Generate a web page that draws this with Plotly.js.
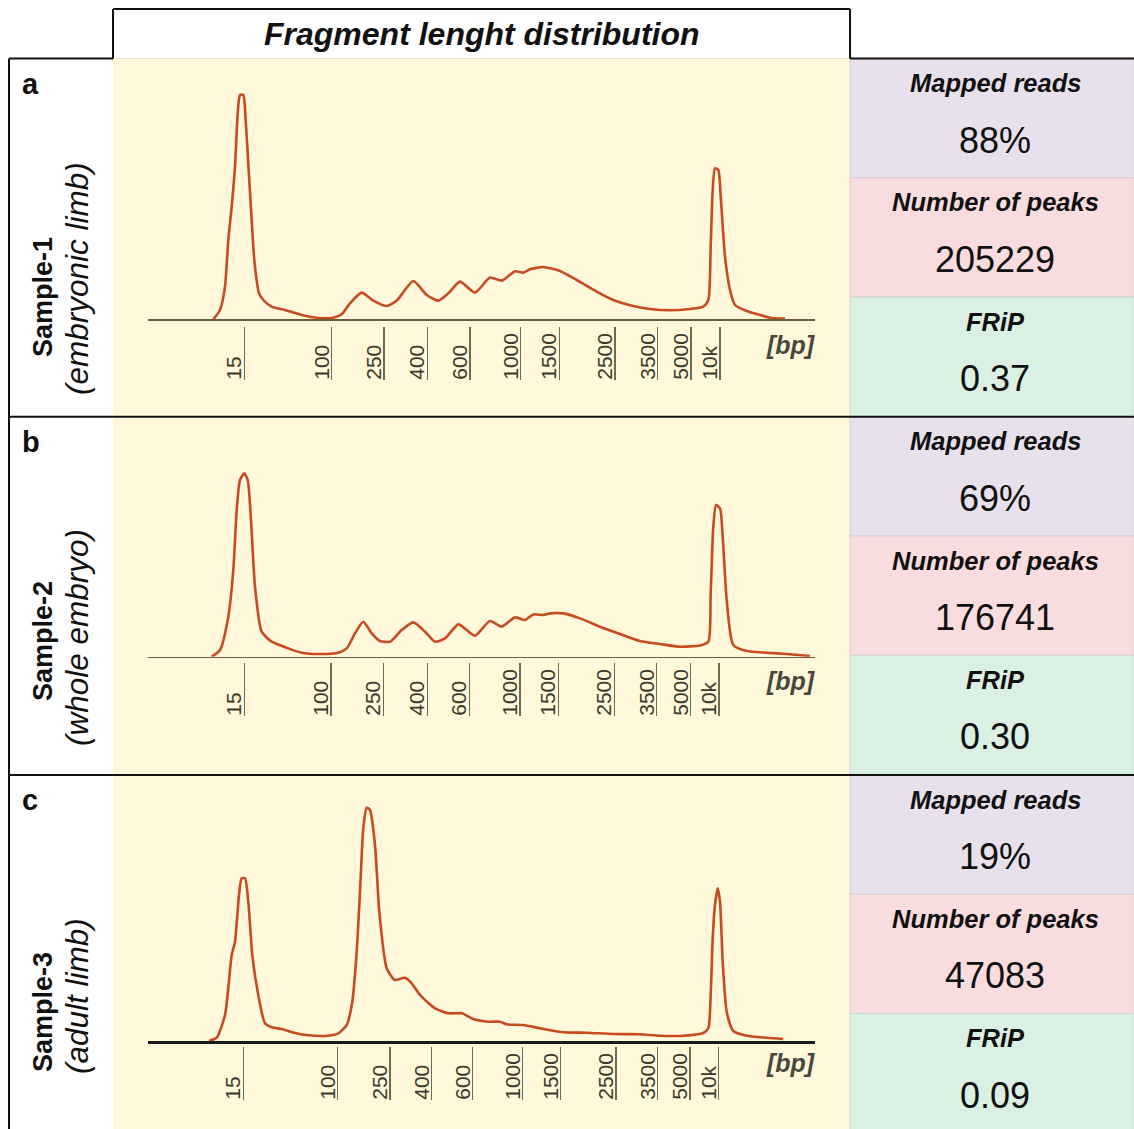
<!DOCTYPE html>
<html>
<head>
<meta charset="utf-8">
<script src="https://cdn.plot.ly/plotly-3.0.1.min.js"></script>
<style>html,body{margin:0;padding:0;background:#fff;}#chart{width:1134px;height:1129px;}</style>
</head>
<body>
<div id="chart"></div>
<script>
// ---------------- DATA ----------------
const sampleNames = ['Sample-1', 'Sample-2', 'Sample-3'];
const sampleTissues = ['(embryonic limb)', '(whole embryo)', '(adult limb)'];
const panelLetters = ['a', 'b', 'c'];
const mappedReads = ['88%', '69%', '19%'];
const numberOfPeaks = ['205229', '176741', '47083'];
const fripValues = ['0.37', '0.30', '0.09'];
const tickLabels = ['15', '100', '250', '400', '600', '1000', '1500', '2500', '3500', '5000', '10k'];
// tick positions along each (hand-drawn, non-uniform) fragment-length axis
const tickPos1 = [96.3, 183.7, 236, 279.3, 322, 372.7, 411.3, 467, 509.7, 543, 572];
const tickPos2 = [96.3, 183, 235.3, 279.3, 321.3, 372, 410.3, 466.3, 508.7, 542.7, 571];
const tickPos3 = [95.3, 189.7, 242, 283.7, 324.7, 374.7, 412.7, 468, 509.7, 542, 570.7];
// fragment length density curves (position on axis, relative density)
const sample1X = [65.3,72,77,80.3,83.7,87,89.7,92,95.3,97.7,100.3,103.7,106.3,111,115.3,123.7,137,153.7,170.3,183.7,193.7,202,213.7,225.3,238.7,248.7,265.3,278.7,290.3,300.3,312,327,342,353.7,367,375.3,382,395.3,412,428.7,448.7,465.3,485.3,502,522,542,555.3,560.3,562.7,564.7,567,570.3,572.7,577,582,587,598.7,612,623.7,637];
const sample1Y = [0,9.3,32.7,79.3,112.7,152.7,206,224.3,224.3,199,155.7,99,59.3,26,19.3,12.7,9.3,4.3,1.3,1.3,5,16,26.7,18.7,13.3,18.7,38.3,24.3,18.7,26,37.7,26.7,41.7,38.7,48,46.7,50,52.3,48.3,39.3,27.7,19.3,13.3,10.3,9,10.3,12.7,19.3,72.7,129.3,151,149.3,122.7,62.7,29.3,14.3,8.3,4.3,1.3,0.7];
const sample2X = [63.7,72,80.3,85.3,88.7,92,96.3,99.7,103,107,113.7,123.7,140.3,153.7,170.3,190.3,198.7,207,215.3,223.7,232,242,253.7,265.3,277,287,297,310.3,318.7,327,342,353.7,367,377,385.3,395.3,402,415.3,432,452,472,492,512,532,552,560.3,562.7,565.3,568,572,574.7,578.7,585.3,598.7,618.7,638.7,662];
const sample2Y = [0,6.7,40,86.7,146.7,176.7,183.3,176.7,136.7,70,25,15,8.3,4,2.7,4,8.3,23.3,35,23.3,15.7,15,26.7,34.3,25,15,18.3,32.3,26.7,21,35.7,30,39.3,36.7,42.3,41.7,43.3,43.3,38.3,30,22.7,15.7,12.7,10,11.3,15,63.3,130,151.7,148.3,120,56.7,11.7,5.7,4,2.7,0.7];
const sample3X = [61,68.7,77,83.7,87,91,93.7,97,100.3,104.3,110.3,117,123.7,133.7,147,160.3,180.3,190.3,198.7,204.3,208.7,212,215.3,218.7,222,227,231.3,238.7,247,257,263.7,272,287,300.3,313.7,325.3,340.3,352,358.7,375.3,392,415.3,438.7,465.3,492,512,535.3,555.3,560.3,562.7,564.7,567,569.7,572,574.7,578.7,585.3,598.7,618.7,635.3];
const sample3Y = [0,3.3,26,86,99.3,146,162.7,162.7,139.3,86,46,17.7,13.7,12,8,5.7,5.3,7.7,16,39.3,89.3,149.3,212.7,233.3,231,196,129.3,72.7,61,63.3,57.7,46,32.7,27.7,27.7,22,19.3,19.3,16.7,16,12.7,8.7,8.3,7,6.7,5.3,5.3,8,12.7,46,102.7,136,152.7,139.3,79.3,29.3,10,5.3,3.3,2];

// ---------------- LAYOUT HELPERS ----------------
const W = 1134, H = 1129;
const fx = x => x / W;
const fy = y => 1 - y / H;
const FONT = 'Liberation Sans, Arial, Helvetica, sans-serif';

const curvesX = [sample1X, sample2X, sample3X];
const curvesY = [sample1Y, sample2Y, sample3Y];
const tickPositions = [tickPos1, tickPos2, tickPos3];

const rowTop = [58.5, 416.7, 775];
const baseline = [319.3, 656.7, 1041];
const tickBottom = [380, 716, 1100];
const bpY = [345, 681, 1063];
const sampleY = [297, 641, 1012];
const tissueY = [279, 638, 996];
const cellH = 119.3;

const traces = [];
const layout = {
  width: W, height: H,
  margin: {l: 0, r: 0, t: 0, b: 0, pad: 0},
  paper_bgcolor: '#ffffff',
  plot_bgcolor: 'rgba(0,0,0,0)',
  showlegend: false,
  font: {family: FONT, color: '#111'},
  shapes: [],
  annotations: []
};

// background: yellow area + right stat cells
layout.shapes.push({type: 'rect', xref: 'paper', yref: 'paper', layer: 'below',
  x0: fx(113), x1: fx(850), y0: fy(1129), y1: fy(58.5), fillcolor: '#FFF8DB', line: {width: 0}});
const cellColors = ['#E9E0EE', '#F9DCDD', '#DAF0E2'];
for (let r = 0; r < 3; r++) {
  for (let c = 0; c < 3; c++) {
    const t = rowTop[r] + c * cellH;
    layout.shapes.push({type: 'rect', xref: 'paper', yref: 'paper', layer: 'below',
      x0: fx(850), x1: fx(1134), y0: fy(t + cellH), y1: fy(t),
      fillcolor: cellColors[c], line: {width: 1, color: 'rgba(200,200,200,0.6)'}});
  }
}
// black frame lines
const blk = {color: '#111', width: 2};
const lines = [
  [113, 9, 850, 9], [113, 9, 113, 58.5], [850, 9, 850, 58.5],
  [9, 58.5, 113, 58.5], [850, 58.5, 1134, 58.5],
  [9, 58.5, 9, 1129],
  [9, 416.7, 1134, 416.7], [9, 775, 1134, 775]
];
lines.forEach(l => layout.shapes.push({type: 'line', xref: 'paper', yref: 'paper', layer: 'above',
  x0: fx(l[0]), y0: fy(l[1]), x1: fx(l[2]), y1: fy(l[3]), line: blk}));
layout.shapes.push({type: 'line', xref: 'paper', yref: 'paper', layer: 'below',
  x0: fx(113), y0: fy(58.5), x1: fx(850), y1: fy(58.5), line: {color: '#e6e0cc', width: 1}});

// header title
layout.annotations.push({xref: 'paper', yref: 'paper', x: fx(482), y: fy(34), xanchor: 'center', yanchor: 'middle',
  text: '<b><i>Fragment lenght distribution</i></b>', showarrow: false, font: {size: 32, color: '#111', family: FONT}});

for (let r = 0; r < 3; r++) {
  const n = r + 1;
  const xa = 'xaxis' + (n === 1 ? '' : n), ya = 'yaxis' + (n === 1 ? '' : n);
  const xid = 'x' + (n === 1 ? '' : n), yid = 'y' + (n === 1 ? '' : n);
  const tn = n + 3;
  const txa = 'xaxis' + tn, txid = 'x' + tn;
  const yTop = rowTop[r];
  const yMax = baseline[r] - yTop;
  const isLast = r === 2;

  layout[xa] = {domain: [fx(148), fx(815)], range: [0, 667], anchor: yid,
    showline: true, linecolor: isLast ? '#1a1a1a' : '#6b5c3a', linewidth: isLast ? 3 : 1.5,
    ticks: '', showticklabels: false, showgrid: false, zeroline: false, fixedrange: true};
  layout[ya] = {domain: [fy(baseline[r]), fy(yTop)], range: [0, yMax], anchor: xid,
    showline: false, ticks: '', showticklabels: false, showgrid: false, zeroline: false, fixedrange: true};
  layout[txa] = {overlaying: xid, anchor: 'free', position: fy(tickBottom[r]), side: 'top',
    range: [0, 667], tickmode: 'array', tickvals: tickPositions[r], ticktext: tickLabels,
    ticks: 'outside', ticklen: 53, tickwidth: 1.5, tickcolor: '#75694a',
    tickangle: -90, ticklabelstandoff: -57, ticklabelshift: -10,
    tickfont: {size: 21, color: '#3d392c', family: FONT},
    showline: false, showgrid: false, zeroline: false, fixedrange: true};

  traces.push({type: 'scatter', mode: 'lines', x: curvesX[r], y: curvesY[r], xaxis: xid, yaxis: yid,
    line: {color: '#C84B1F', width: 2.6, shape: 'spline', smoothing: 0.6}, hoverinfo: 'skip'});
  traces.push({type: 'scatter', mode: 'markers', x: tickPositions[r], y: tickPositions[r].map(() => 0),
    xaxis: txid, yaxis: yid, marker: {opacity: 0, size: 1}, hoverinfo: 'skip'});

  // [bp] unit
  layout.annotations.push({xref: 'paper', yref: 'paper', x: fx(791), y: fy(bpY[r]), xanchor: 'center', yanchor: 'middle',
    text: '<b><i>[bp]</i></b>', showarrow: false, font: {size: 25, color: '#4a483d', family: FONT}});
  // panel letter
  layout.annotations.push({xref: 'paper', yref: 'paper', x: fx(20), y: fy(yTop + 25), xanchor: 'left', yanchor: 'middle',
    text: '<b>' + panelLetters[r] + '</b>', showarrow: false, font: {size: 29, color: '#111', family: FONT}});
  // sample labels (rotated)
  layout.annotations.push({xref: 'paper', yref: 'paper', x: fx(43), y: fy(sampleY[r]), xanchor: 'center', yanchor: 'middle',
    text: '<b>' + sampleNames[r] + '</b>', textangle: -90, showarrow: false, font: {size: 27, color: '#111', family: FONT}});
  layout.annotations.push({xref: 'paper', yref: 'paper', x: fx(77), y: fy(tissueY[r]), xanchor: 'center', yanchor: 'middle',
    text: '<i>' + sampleTissues[r] + '</i>', textangle: -90, showarrow: false, font: {size: 31.5, color: '#111', family: FONT}});
  // stats cells
  const titles = ['Mapped reads', 'Number of peaks', 'FRiP'];
  const vals = [mappedReads[r], numberOfPeaks[r], fripValues[r]];
  for (let c = 0; c < 3; c++) {
    const t = yTop + c * cellH;
    layout.annotations.push({xref: 'paper', yref: 'paper', x: fx(995), y: fy(t + 24.5), xanchor: 'center', yanchor: 'middle',
      text: '<b><i>' + titles[c] + '</i></b>', showarrow: false, font: {size: 25.5, color: '#111', family: FONT}});
    layout.annotations.push({xref: 'paper', yref: 'paper', x: fx(995), y: fy(t + 81.5), xanchor: 'center', yanchor: 'middle',
      text: vals[c], showarrow: false, font: {size: 36, color: '#111', family: FONT}});
  }
}

Plotly.newPlot('chart', traces, layout, {staticPlot: true, displayModeBar: false});
</script>
</body>
</html>
